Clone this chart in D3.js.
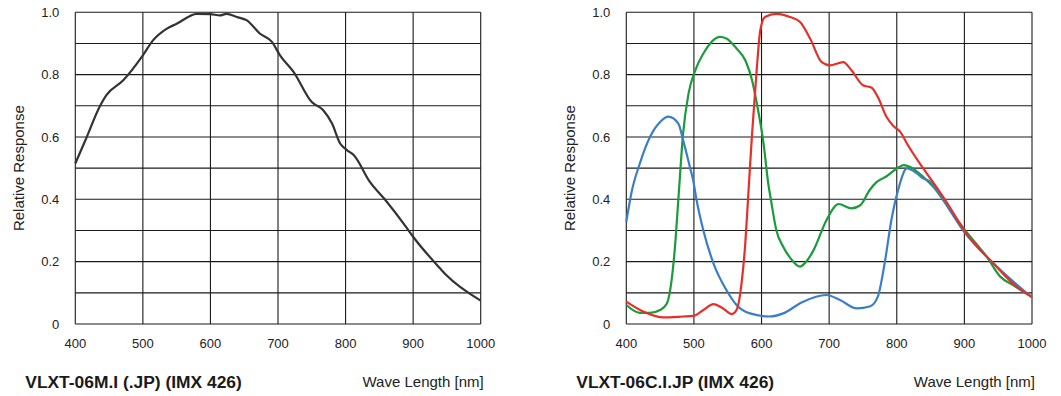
<!DOCTYPE html>
<html><head><meta charset="utf-8">
<script src="https://cdn.jsdelivr.net/npm/d3@7"></script>
<style>
html,body{margin:0;padding:0;background:#fff;}
svg{display:block;font-family:"Liberation Sans",Arial,Helvetica,sans-serif;}
</style></head>
<body>
<svg id="chart" width="1061" height="396"></svg>
<script>
// ---- data ----
const xTicks = [400, 500, 600, 700, 800, 900, 1000];
const yTickValues = [0, 0.2, 0.4, 0.6, 0.8, 1.0];
const yTickLabels = ["0", "0.2", "0.4", "0.6", "0.8", "1.0"];
const yGrid = [0.1, 0.2, 0.3, 0.4, 0.5, 0.6, 0.7, 0.8, 0.9, 1.0];
const titles = ["VLXT-06M.I (.JP) (IMX 426)", "VLXT-06C.I.JP (IMX 426)"];
const xAxisTitle = "Wave Length [nm]";
const yAxisTitle = "Relative Response";

const mono = [[400,0.515],[417,0.60],[436,0.697],[446,0.734],[471,0.782],[500,0.862],[515,0.91],[535,0.947],[550,0.963],[580,0.995],[600,0.994],[614,0.99],[624,0.995],[639,0.985],[654,0.974],[673,0.932],[691,0.905],[703,0.862],[723,0.809],[750,0.712],[767,0.686],[780,0.643],[792,0.579],[802,0.558],[812,0.542],[836,0.456],[858,0.40],[890,0.31],[900,0.28],[940,0.178],[949,0.157],[1000,0.075]];

const red = [[400,0.072],[425,0.04],[455,0.021],[484,0.024],[499,0.026],[514,0.045],[529,0.064],[543,0.05],[556,0.032],[563,0.045],[571,0.141],[576,0.26],[580,0.40],[586,0.61],[593,0.82],[598,0.94],[605,0.985],[622,0.995],[642,0.985],[657,0.969],[672,0.915],[689,0.84],[701,0.83],[721,0.84],[733,0.814],[750,0.766],[763,0.758],[772,0.728],[785,0.664],[795,0.635],[805,0.617],[815,0.579],[834,0.515],[852,0.46],[871,0.40],[903,0.29],[943,0.194],[977,0.12],[1000,0.087]];

const green = [[400,0.061],[420,0.036],[435,0.036],[450,0.045],[460,0.066],[467,0.141],[472,0.248],[477,0.40],[484,0.611],[492,0.739],[502,0.814],[514,0.868],[524,0.90],[538,0.921],[548,0.916],[563,0.884],[576,0.846],[586,0.782],[593,0.708],[603,0.579],[610,0.45],[614,0.397],[622,0.30],[632,0.248],[645,0.205],[652,0.189],[657,0.184],[664,0.195],[677,0.237],[696,0.333],[714,0.385],[733,0.371],[746,0.381],[760,0.43],[770,0.455],[785,0.474],[800,0.499],[810,0.51],[820,0.504],[839,0.472],[854,0.44],[879,0.365],[901,0.301],[933,0.216],[953,0.152],[972,0.125],[1000,0.087]];

const blue = [[400,0.328],[408,0.425],[420,0.515],[435,0.60],[450,0.648],[462,0.665],[477,0.643],[484,0.59],[494,0.504],[499,0.46],[504,0.397],[514,0.30],[529,0.194],[548,0.109],[563,0.061],[583,0.034],[612,0.024],[632,0.034],[660,0.07],[696,0.093],[716,0.077],[741,0.05],[760,0.056],[772,0.088],[782,0.194],[792,0.333],[802,0.43],[815,0.499],[830,0.483],[839,0.467],[850,0.456],[859,0.43],[900,0.295],[950,0.18],[1000,0.085]];

const panels = [
  {left: 75.3, right: 480.7, title: titles[0], series: [{data: mono, color: "#333333"}]},
  {left: 626.3, right: 1032, title: titles[1], series: [
    {data: green, color: "#1a9c3a"},
    {data: blue, color: "#3a7ec6"},
    {data: red, color: "#e5302a"}
  ]}
];

const plotTop = 12.3, plotBottom = 324;
const svg = d3.select("#chart");

panels.forEach(p => {
  const x = d3.scaleLinear().domain([400, 1000]).range([p.left, p.right]);
  const y = d3.scaleLinear().domain([0, 1]).range([plotBottom, plotTop]);
  const g = svg.append("g");

  // grid
  g.selectAll(".vg").data(xTicks).enter().append("line")
    .attr("x1", d => x(d)).attr("x2", d => x(d))
    .attr("y1", y(0)).attr("y2", y(1))
    .attr("stroke", "#1a1a1a").attr("stroke-width", 1.1);
  g.selectAll(".hg").data([0].concat(yGrid)).enter().append("line")
    .attr("x1", x(400)).attr("x2", x(1000))
    .attr("y1", d => y(d)).attr("y2", d => y(d))
    .attr("stroke", "#1a1a1a").attr("stroke-width", 1.1);

  // tick labels
  g.selectAll(".xt").data(xTicks).enter().append("text")
    .attr("x", d => x(d)).attr("y", 348)
    .attr("text-anchor", "middle").attr("font-size", 13).attr("fill", "#222")
    .text(d => d);
  g.selectAll(".yt").data(yTickValues).enter().append("text")
    .attr("x", x(400) - 16).attr("y", d => y(d)).attr("dy", "0.36em")
    .attr("text-anchor", "end").attr("font-size", 13).attr("fill", "#222")
    .text((d, i) => yTickLabels[i]);

  // axis titles
  g.append("text")
    .attr("transform", `translate(${x(400) - 51},${(plotTop + plotBottom) / 2}) rotate(-90)`)
    .attr("text-anchor", "middle").attr("font-size", 15).attr("fill", "#222")
    .text(yAxisTitle);
  g.append("text")
    .attr("x", x(1000) + 3).attr("y", 387)
    .attr("text-anchor", "end").attr("font-size", 15).attr("fill", "#222")
    .text(xAxisTitle);
  g.append("text")
    .attr("x", x(400) - 50).attr("y", 387.5)
    .attr("font-size", 17.4).attr("font-weight", "bold").attr("fill", "#1a1a1a")
    .text(p.title);

  const line = d3.line().x(d => x(d[0])).y(d => y(d[1])).curve(d3.curveMonotoneX);
  p.series.forEach(s => {
    g.append("path").datum(s.data)
      .attr("d", line).attr("fill", "none")
      .attr("stroke", s.color).attr("stroke-width", 2.2)
      .attr("stroke-linejoin", "round");
  });
});
</script>
</body></html>
